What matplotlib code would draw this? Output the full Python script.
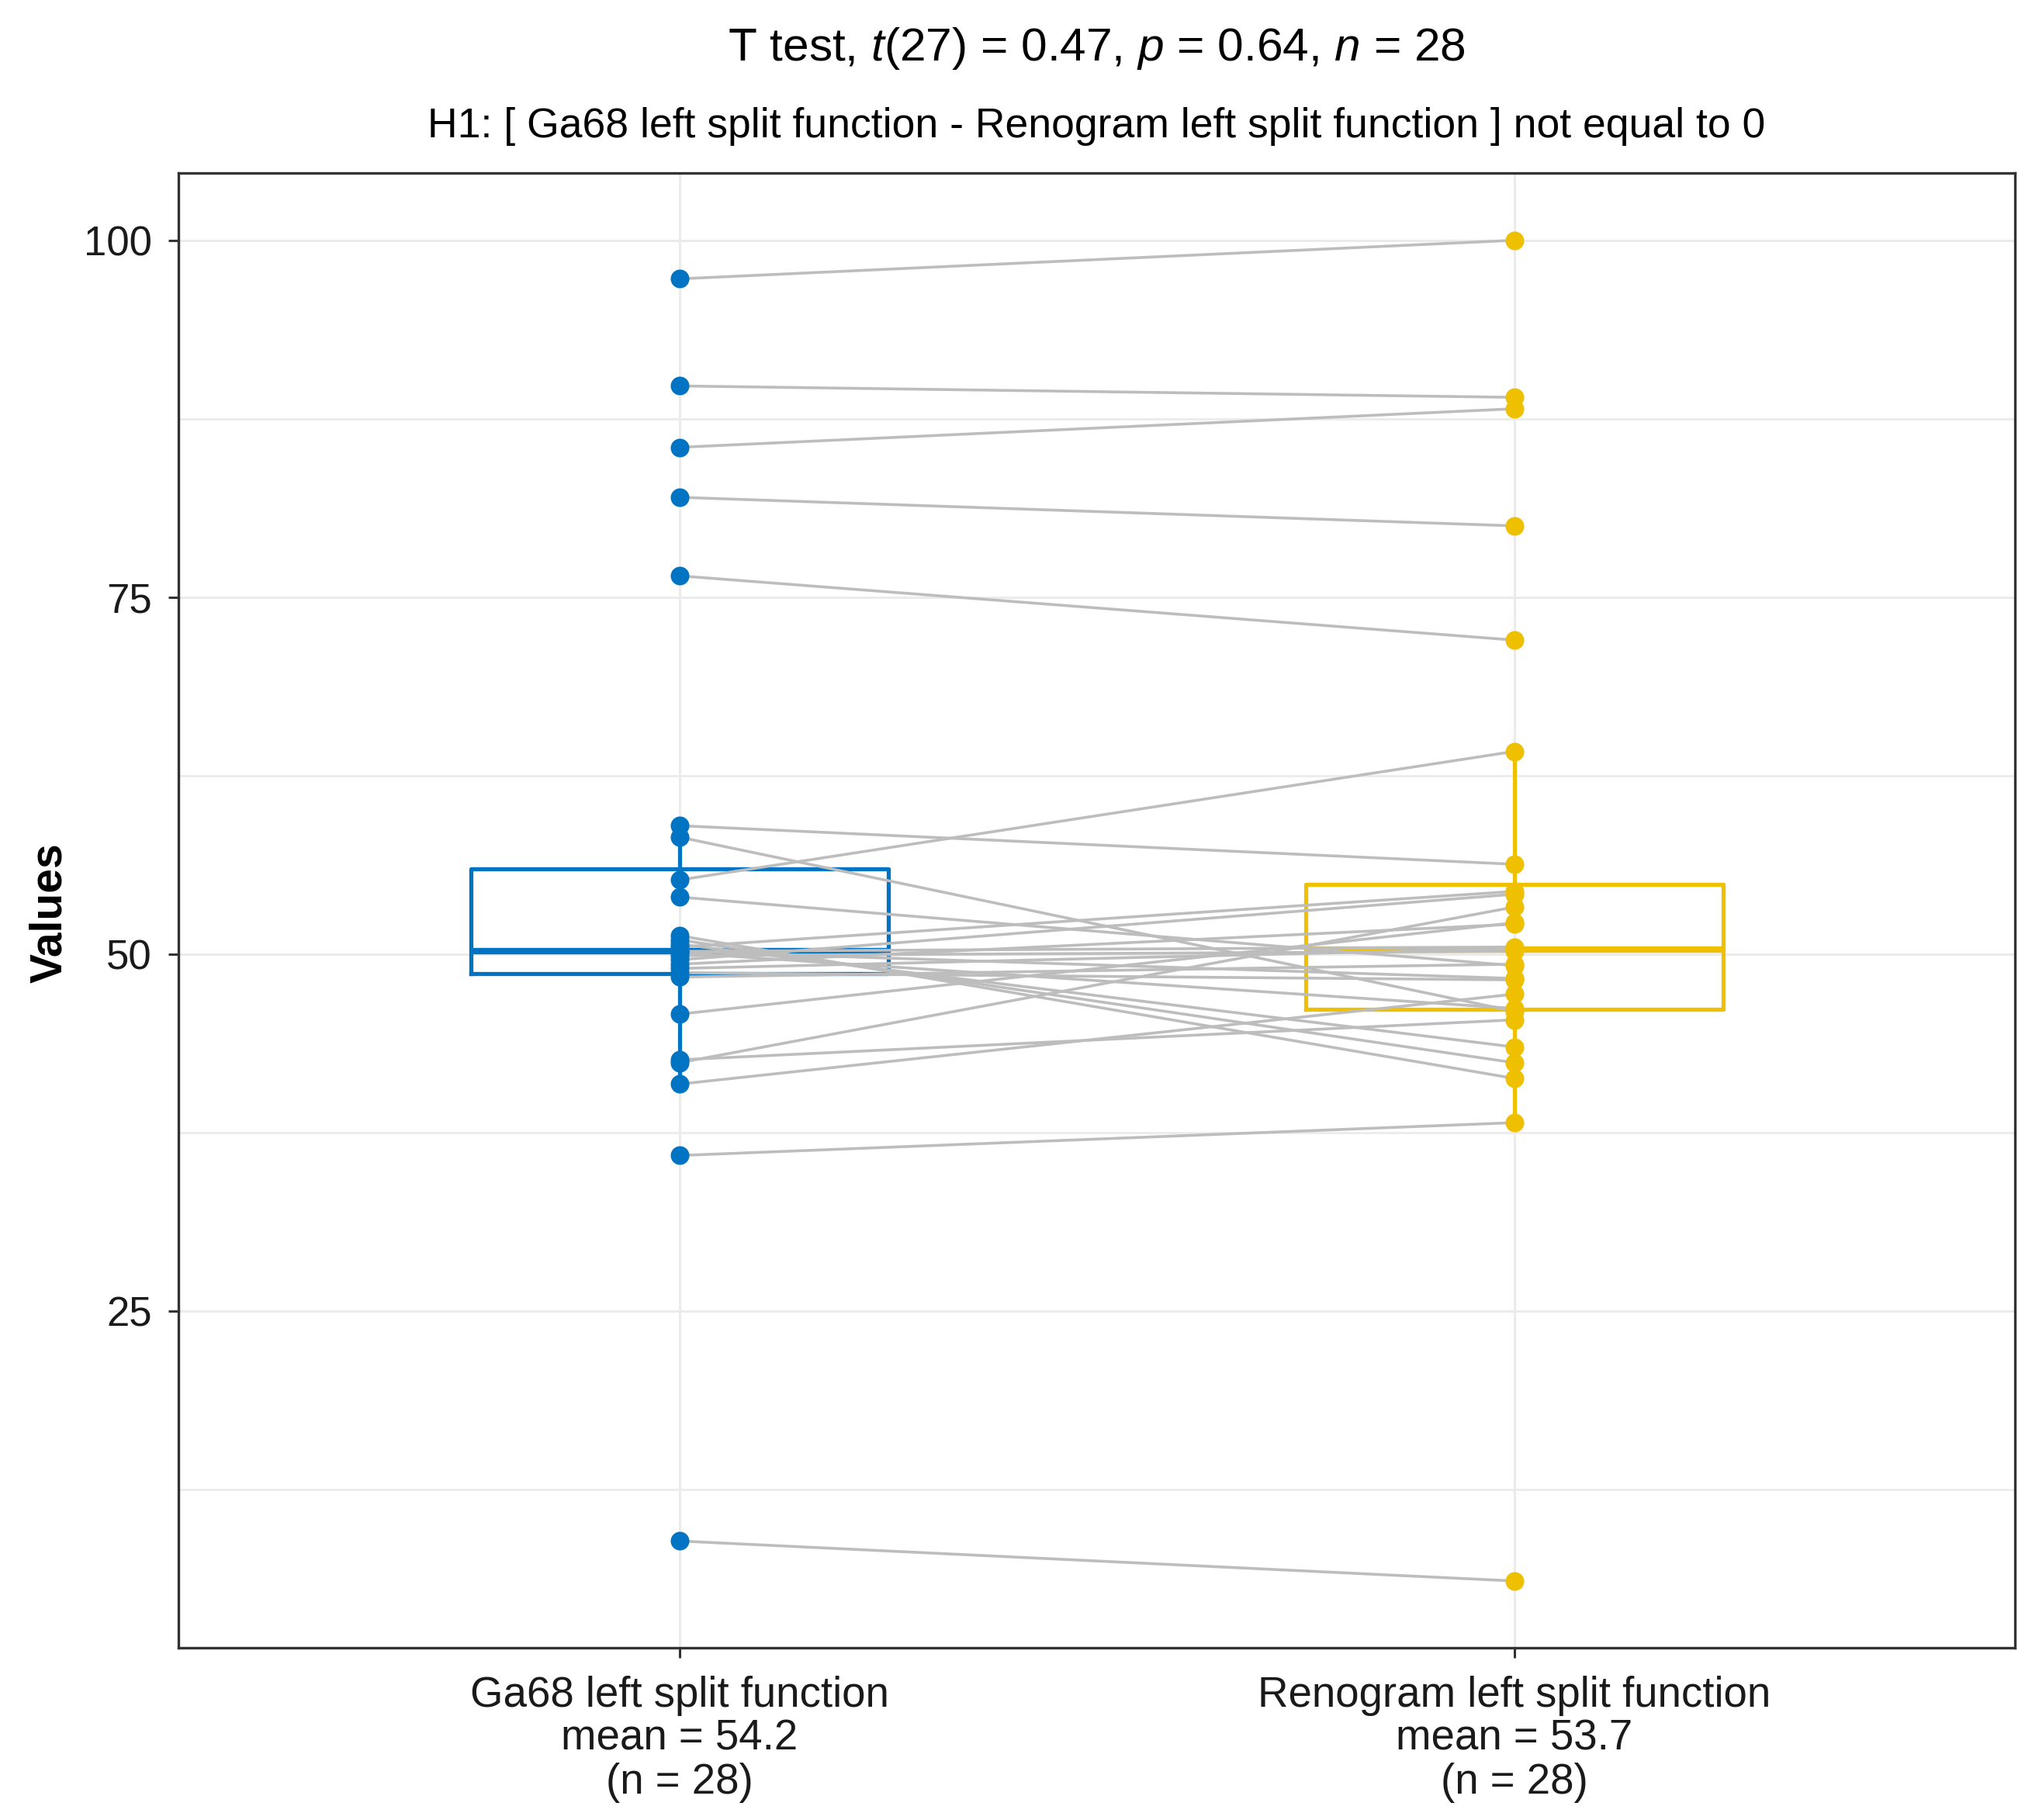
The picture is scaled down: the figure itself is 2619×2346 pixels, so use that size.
import numpy as np
import matplotlib
matplotlib.use('agg')
import matplotlib.pyplot as plt

plt.rcParams['font.family'] = ['Liberation Sans', 'DejaVu Sans']
plt.rcParams['mathtext.fontset'] = 'custom'
plt.rcParams['mathtext.rm'] = 'Liberation Sans'
plt.rcParams['mathtext.it'] = 'Liberation Sans:italic'

# paired measurements, one entry per patient (same order in both lists)
ga68 = [97.3, 89.8, 85.5, 82.0, 76.5, 8.9, 35.9, 59.0, 58.2, 55.2, 54.0,
        45.8, 42.4, 42.6, 40.9, 51.3, 51.0, 50.7, 50.5, 50.2, 50.2, 50.1,
        49.9, 49.6, 49.3, 49.0, 48.7, 48.4]
renogram = [100.0, 89.0, 88.2, 80.0, 72.0, 6.1, 38.2, 56.3, 46.0, 64.2, 49.2,
            52.2, 53.3, 45.4, 47.2, 41.3, 42.4, 43.5, 54.4, 48.3, 50.5, 46.2,
            50.2, 54.2, 52.1, 50.4, 48.2, 49.3]

tick_labels = ["Ga68 left split function\nmean = 54.2\n(n = 28)",
               "Renogram left split function\nmean = 53.7\n(n = 28)"]
title = "T test, $\\mathit{t}$(27) = 0.47, $\\mathit{p}$ = 0.64, $\\mathit{n}$ = 28"
subtitle = "H1: [ Ga68 left split function - Renogram left split function ] not equal to 0"

colors = ["#0073C2", "#EFC000"]
W, H = 2619, 2346

fig = plt.figure(figsize=(W / 100, H / 100), dpi=100)
ax = fig.add_axes([0.0878, 0.0945, 0.9039, 0.8103])

# boxplots
for i, (vals, c) in enumerate(zip([ga68, renogram], colors)):
    ax.boxplot([vals], positions=[i + 1], widths=0.5, showfliers=False,
               showcaps=False, whis=1.5, manage_ticks=False,
               boxprops=dict(color=c, linewidth=3.8),
               whiskerprops=dict(color=c, linewidth=3.8),
               medianprops=dict(color=c, linewidth=6.0),
               zorder=2)

# paired lines
for g, r in zip(ga68, renogram):
    ax.plot([1, 2], [g, r], color="#BDBDBD", linewidth=2.6, zorder=3,
            solid_capstyle="butt")

# points
ax.scatter(np.ones(len(ga68)), ga68, s=300, color=colors[0], zorder=4,
           linewidths=0)
ax.scatter(np.full(len(renogram), 2), renogram, s=300, color=colors[1],
           zorder=4, linewidths=0)

allv = ga68 + renogram
lo, hi = min(allv), max(allv)
pad = 0.05 * (hi - lo)
ax.set_ylim(lo - pad, hi + pad)
ax.set_xlim(0.4, 2.6)

ax.set_yticks([25, 50, 75, 100])
ax.set_yticks([12.5, 37.5, 62.5, 87.5], minor=True)
ax.set_xticks([1, 2])
ax.set_xticklabels(tick_labels, linespacing=1.1)
ax.grid(which="major", color="#EBEBEB", linewidth=2.2, zorder=0)
ax.grid(which="minor", axis="y", color="#EBEBEB", linewidth=2.0, zorder=0)
ax.set_axisbelow(True)

ax.tick_params(which="major", direction="out", length=9.5, width=2.2,
               color="#333333", labelcolor="#1A1A1A")
ax.tick_params(axis="y", pad=15, labelsize=38)
ax.tick_params(axis="x", pad=16, labelsize=39.3)
ax.tick_params(which="minor", length=0)
for sp in ax.spines.values():
    sp.set_color("#333333")
    sp.set_linewidth(2.4)

cx = 0.5397
fig.text(cx, 0.9735, title, ha="center", va="center", fontsize=43.5)
fig.text(cx, 0.9306, subtitle, ha="center", va="center", fontsize=38.5)
fig.text(64 / W, 0.4985, "Values", rotation=90, ha="center", va="center",
         fontsize=41, fontweight="bold")

fig.savefig("out.png", dpi=100)
